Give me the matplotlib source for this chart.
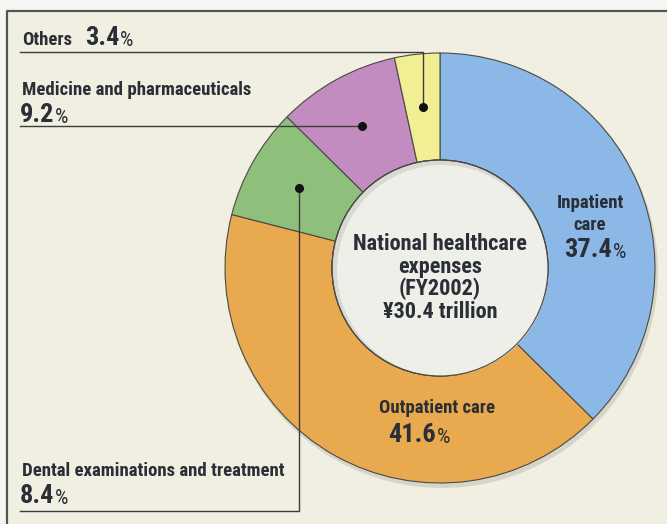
import matplotlib.pyplot as plt
from matplotlib import font_manager
from matplotlib.patches import Circle
import numpy as np

W, H = 667, 524

labels = ["Inpatient care", "Outpatient care", "Dental examinations and treatment",
          "Medicine and pharmaceuticals", "Others"]
shares = [37.4, 41.6, 8.4, 9.2, 3.4]
colors = ["#8bb8e6", "#e9a94e", "#8fc07b", "#c28cc1", "#f2ee93"]
center_lines = ["National healthcare", "expenses", "(FY2002)", "\u00a530.4 trillion"]

BG = "#f0efe2"
INK = "#2a2e35"
LINE = "#3c3c3c"

# first condensed sans that is installed
installed = {f.name for f in font_manager.fontManager.ttflist}
for name in ["Roboto Condensed", "Archivo Narrow", "Liberation Sans Narrow",
             "Barlow Semi Condensed", "Asap Condensed"]:
    if name in installed:
        break
FONT = [name, "DejaVu Sans"]

cx, cy = 440, H - 268
r_out, r_in = 215, 108

fig = plt.figure(figsize=(W / 100, H / 100), dpi=100)
fig.patch.set_facecolor("#f5f5f1")
ax = fig.add_axes([0, 0, 1, 1])
ax.set_xlim(0, W)
ax.set_ylim(0, H)
ax.axis("off")

# cream panel with its border
ax.fill_between([7, W + 5], -5, H - 11, color=BG, zorder=0)
ax.plot([7, 7, W + 5], [-5, H - 11, H - 11], color="#555555", lw=1.6, zorder=1)


def px(y):
    return H - y


# soft shadow under the ring
ax.add_patch(Circle((cx + 2, cy - 4), r_out + 1, color="#9a9a90", alpha=0.3, lw=0, zorder=1))

wedges, _ = ax.pie(shares, colors=colors, startangle=90, counterclock=False,
                   radius=r_out, center=(cx, cy), frame=True,
                   wedgeprops=dict(width=r_out - r_in, edgecolor="#4a4a44", linewidth=0.8))
for w in wedges:
    w.set_zorder(2)
ax.set_xlim(0, W)
ax.set_ylim(0, H)

# hole with a faint inner shadow on its upper left
ax.add_patch(Circle((cx, cy), r_in, facecolor="#d9d9d2", edgecolor="#4a4a44", lw=0.8, zorder=3))
ax.add_patch(Circle((cx + 2.5, cy - 2.5), r_in - 2.5, facecolor="#efefe9", lw=0, zorder=3))
ax.add_patch(Circle((cx, cy), r_in, facecolor="none", edgecolor="#4a4a44", lw=0.8, zorder=3))

# leader dots at the middle of each small wedge
cum = np.cumsum(shares)
mid_ang = np.deg2rad(90 - 3.6 * (cum - np.array(shares) / 2))
r_mid = (r_out + r_in) / 2
dots = {i: (cx + r_mid * np.cos(mid_ang[i]), cy + r_mid * np.sin(mid_ang[i])) for i in (2, 3, 4)}
for i, (x, y) in dots.items():
    ax.plot(x, y, "o", color="#111111", ms=5.5, zorder=6)

x_left = 20
ox, oy = dots[4]
ax.plot([ox, ox, x_left], [oy, px(52), px(52)], color=LINE, lw=1.0, zorder=5)
mx, my = dots[3]
ax.plot([mx, x_left], [my, my], color=LINE, lw=1.0, zorder=5)
dx, dy = dots[2]
ax.plot([dx, dx, x_left], [dy, px(511), px(511)], color=LINE, lw=1.0, zorder=5)


def pct(x, y, value, size=19):
    t = ax.text(x, y, f"{value:.1f}", fontsize=size, fontweight="bold", color=INK,
                family=FONT, ha="left", va="baseline", zorder=7)
    ax.annotate("%", xy=(1, 0), xycoords=t, xytext=(0.5, 0), textcoords="offset points",
                fontsize=size * 0.8, color=INK, family=FONT, ha="left", va="bottom", zorder=7)
    return t


lab = dict(fontsize=13.5, fontweight="bold", color=INK, family=FONT, zorder=7)

# Others
ax.text(22, px(45), "Others", va="baseline", **lab)
pct(85, px(45), shares[4])

# Medicine
ax.text(22, px(95), labels[3], va="baseline", **lab)
pct(20, px(122), shares[3])

# Dental
ax.text(22, px(476), labels[2], va="baseline", **lab)
pct(20, px(503), shares[2])

# Inpatient
ax.text(590, px(208), "Inpatient", ha="center", va="baseline", **lab)
ax.text(590, px(230), "care", ha="center", va="baseline", **lab)
pct(564, px(257), shares[0])

# Outpatient
ax.text(437, px(413), "Outpatient care", ha="center", va="baseline", **lab)
pct(388, px(442), shares[1])

# centre caption
for k, line in enumerate(center_lines):
    ax.text(cx, px(250 + 22.5 * k), line, ha="center", va="baseline",
            fontsize=16, fontweight="bold", color=INK, family=FONT, zorder=7)

fig.savefig("out.png", dpi=100, facecolor=fig.get_facecolor())
